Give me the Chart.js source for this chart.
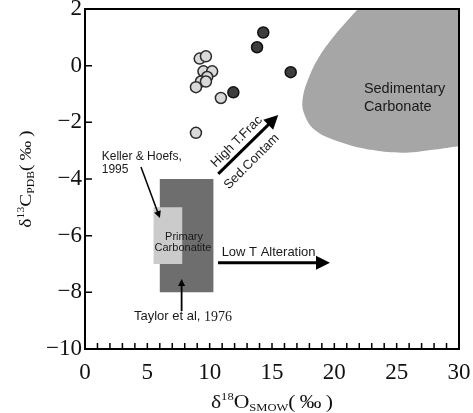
<!DOCTYPE html>
<html>
<head>
<meta charset="utf-8">
<script src="https://cdn.jsdelivr.net/npm/chart.js@4/dist/chart.umd.min.js"></script>
<style>
  body { margin: 0; background: #fff; }
  #wrap { width: 473px; height: 413px; }
</style>
</head>
<body>
<div id="wrap"><canvas id="myChart" width="473" height="413"></canvas></div>
<script>
// samples (d18O, d13C)
const lightX = [9.2, 9.7, 9.5, 10.2, 9.8, 9.3, 9.7, 8.9, 10.9, 8.9];
const lightY = [0.25, 0.33, -0.2, -0.2, -0.4, -0.56, -0.56, -0.76, -1.14, -2.37];
const darkX = [14.3, 13.8, 16.5, 11.9];
const darkY = [1.17, 0.65, -0.23, -0.94];

// fields
const sedX = [32, 29.99, 28.07, 25.66, 23.1, 20.45, 18.44, 17.56, 17.48, 18.04, 18.77, 19.73, 21.09, 21.89, 22.8, 32];
const sedY = [-2.75, -2.84, -2.96, -3.07, -2.98, -2.69, -2.27, -1.67, -1.11, -0.33, 0.31, 0.91, 1.61, 2.0, 2.45, 3];
const taylorX = [6, 10.3, 10.3, 6];
const taylorY = [-4, -4, -8, -8];
const kellerX = [5.5, 7.8, 7.8, 5.5];
const kellerY = [-5, -5, -7, -7];

const xTicks = [0, 5, 10, 15, 20, 25, 30];
const yTicks = [2, 0, -2, -4, -6, -8, -10];

function pts(xs, ys) {
    return xs.map((v, i) => ({x: v, y: ys[i]}));
}

const sans = '"Liberation Sans", Arial, sans-serif';
const serif = '"Liberation Serif", "Times New Roman", serif';

// labels and arrows, in data units
const notes = [
    {t: 'Sedimentary', x: 22.37, y: -0.82, size: 14.5, align: 'left'},
    {t: 'Carbonate', x: 22.37, y: -1.45, size: 14.5, align: 'left'},
    {t: 'Keller & Hoefs,', x: 1.34, y: -3.21, size: 12, align: 'left'},
    {t: '1995', x: 1.34, y: -3.66, size: 12, align: 'left'},
    {t: 'Primary', x: 7.94, y: -6.04, size: 11, align: 'center'},
    {t: 'Carbonatite', x: 7.86, y: -6.44, size: 11, align: 'center'},
    {t: 'Low T Alteration', x: 10.96, y: -6.6, size: 13, align: 'left'}
];
const arrows = [
    {x1: 4.49, y1: -3.58, x2: 6.01, y2: -5.38, w: 1.5, head: 7},
    {x1: 7.75, y1: -8.66, x2: 7.75, y2: -7.53, w: 1.8, head: 7},
    {x1: 10.67, y1: -6.96, x2: 19.65, y2: -6.96, w: 3, head: 14},
    {x1: 10.69, y1: -3.82, x2: 15.5, y2: -1.74, w: 3, head: 14}
];

function drawArrow(ctx, a, b, c, d, w, head) {
    var ang = Math.atan2(d - b, c - a);
    var bx = c - head * Math.cos(ang), by = d - head * Math.sin(ang);
    ctx.lineWidth = w;
    ctx.beginPath();
    ctx.moveTo(a, b);
    ctx.lineTo(bx + Math.cos(ang), by + Math.sin(ang));
    ctx.stroke();
    var hw = head * 0.5;
    ctx.beginPath();
    ctx.moveTo(c, d);
    ctx.lineTo(bx + hw * Math.sin(ang), by - hw * Math.cos(ang));
    ctx.lineTo(bx - hw * Math.sin(ang), by + hw * Math.cos(ang));
    ctx.closePath();
    ctx.fill();
}

// text with super/subscripts, centred on x, stretched sideways
function richText(ctx, parts, x, y, stretch) {
    var total = 0;
    parts.forEach(p => {
        ctx.font = p.size + 'px ' + serif;
        p.w = ctx.measureText(p.t).width;
        total += p.w;
    });
    ctx.save();
    ctx.translate(x, y);
    ctx.scale(stretch, 1);
    var cx = -total / 2;
    ctx.textAlign = 'left';
    ctx.textBaseline = 'alphabetic';
    parts.forEach(p => {
        ctx.font = p.size + 'px ' + serif;
        ctx.fillText(p.t, cx, p.dy || 0);
        cx += p.w;
    });
    ctx.restore();
}

const extras = {
    id: 'extras',
    afterDatasetsDraw(chart) {
        var ctx = chart.ctx, xs = chart.scales.x, ys = chart.scales.y, ca = chart.chartArea;
        ctx.save();
        ctx.fillStyle = '#1a1a1a';
        ctx.strokeStyle = '#000';
        ctx.textBaseline = 'middle';
        notes.forEach(n => {
            ctx.font = n.size + 'px ' + sans;
            ctx.textAlign = n.align;
            ctx.fillText(n.t, xs.getPixelForValue(n.x), ys.getPixelForValue(n.y));
        });
        // Taylor label: serif year
        var tx = xs.getPixelForValue(3.93), ty = ys.getPixelForValue(-8.86);
        ctx.font = '13px ' + sans;
        ctx.textAlign = 'left';
        ctx.fillText('Taylor et al, ', tx, ty);
        var tw = ctx.measureText('Taylor et al, ').width;
        ctx.font = '14px ' + serif;
        ctx.fillText('1976', tx + tw, ty + 0.5);

        ctx.fillStyle = '#000';
        arrows.forEach(a => drawArrow(ctx, xs.getPixelForValue(a.x1), ys.getPixelForValue(a.y1),
            xs.getPixelForValue(a.x2), ys.getPixelForValue(a.y2), a.w, a.head));

        // rotated text along high T arrow
        ctx.fillStyle = '#1a1a1a';
        ctx.font = '13px ' + sans;
        ctx.textAlign = 'center';
        [['High T.Frac', 12.17, -2.68], ['Sed.Contam', 13.37, -3.39]].forEach(r => {
            ctx.save();
            ctx.translate(xs.getPixelForValue(r[1]), ys.getPixelForValue(r[2]));
            ctx.rotate(-Math.PI / 4);
            ctx.fillText(r[0], 0, 0);
            ctx.restore();
        });

        // frame and inward ticks
        ctx.strokeStyle = '#000';
        ctx.lineWidth = 2;
        ctx.strokeRect(ca.left, ca.top, ca.right - ca.left, ca.bottom - ca.top);
        ctx.lineWidth = 1.5;
        ctx.beginPath();
        for (var v = 0; v <= 30; v++) {
            var px = xs.getPixelForValue(v);
            ctx.moveTo(px, ca.bottom);
            ctx.lineTo(px, ca.bottom - 6);
        }
        yTicks.forEach(t => {
            var py = ys.getPixelForValue(t);
            ctx.moveTo(ca.left, py);
            ctx.lineTo(ca.left + 7, py);
        });
        ctx.stroke();

        // axis titles
        ctx.fillStyle = '#111';
        richText(ctx, [
            {t: 'δ', size: 19}, {t: '18', size: 11, dy: -8}, {t: 'O', size: 19},
            {t: 'SMOW', size: 11, dy: 3}, {t: '(\u2009‰\u2009)', size: 19}
        ], (ca.left + ca.right) / 2, 408, 1.14);
        ctx.save();
        ctx.translate(31, (ca.top + ca.bottom) / 2);
        ctx.rotate(-Math.PI / 2);
        richText(ctx, [
            {t: 'δ', size: 17}, {t: '13', size: 10, dy: -7}, {t: 'C', size: 17},
            {t: 'PDB', size: 10, dy: 3}, {t: '(\u2009‰\u2009)', size: 17}
        ], 0, 0, 1.16);
        ctx.restore();
        ctx.restore();
    }
};

var ctx = document.getElementById('myChart').getContext('2d');
var myChart = new Chart(ctx, {
    type: 'scatter',
    data: {
        datasets: [
            {
                type: 'line', data: pts(sedX, sedY), fill: 'shape', backgroundColor: '#a6a6a6',
                borderWidth: 0, pointRadius: 0, tension: 0.4, order: 5
            },
            {
                type: 'line', data: pts(taylorX, taylorY), fill: 'shape', backgroundColor: '#6e6e6e',
                borderWidth: 0, pointRadius: 0, tension: 0, order: 4
            },
            {
                type: 'line', data: pts(kellerX, kellerY), fill: 'shape', backgroundColor: '#cbcbcb',
                borderWidth: 0, pointRadius: 0, tension: 0, order: 3
            },
            {
                data: pts(lightX, lightY), backgroundColor: '#d9d9d9', borderColor: '#2b2b2b',
                borderWidth: 1.5, pointRadius: 5.5, order: 1
            },
            {
                data: pts(darkX, darkY), backgroundColor: '#3d3d3d', borderColor: '#111',
                borderWidth: 1.5, pointRadius: 5.5, order: 1
            }
        ]
    },
    options: {
        responsive: false,
        animation: false,
        layout: {padding: {top: 9, right: 14, left: 0, bottom: 0}},
        plugins: {legend: {display: false}, tooltip: {enabled: false}},
        scales: {
            x: {
                min: 0, max: 30,
                afterFit: s => { s.height = 64; s.paddingLeft = 0; s.paddingRight = 0; },
                grid: {display: false, drawTicks: false},
                border: {display: false},
                afterBuildTicks: s => { s.ticks = xTicks.map(v => ({value: v})); },
                ticks: {
                    autoSkip: false, maxRotation: 0, padding: 10, color: '#111',
                    font: {family: serif, size: 23},
                    callback: v => String(v)
                }
            },
            y: {
                min: -10, max: 2,
                afterFit: s => { s.width = 85; s.paddingTop = 0; s.paddingBottom = 0; },
                grid: {display: false, drawTicks: false},
                border: {display: false},
                afterBuildTicks: s => { s.ticks = yTicks.map(v => ({value: v})); },
                ticks: {
                    padding: 3, color: '#111',
                    font: {family: serif, size: 23},
                    callback: v => String(v).replace('-', '\u2212')
                }
            }
        }
    },
    plugins: [extras]
});
</script>
</body>
</html>
